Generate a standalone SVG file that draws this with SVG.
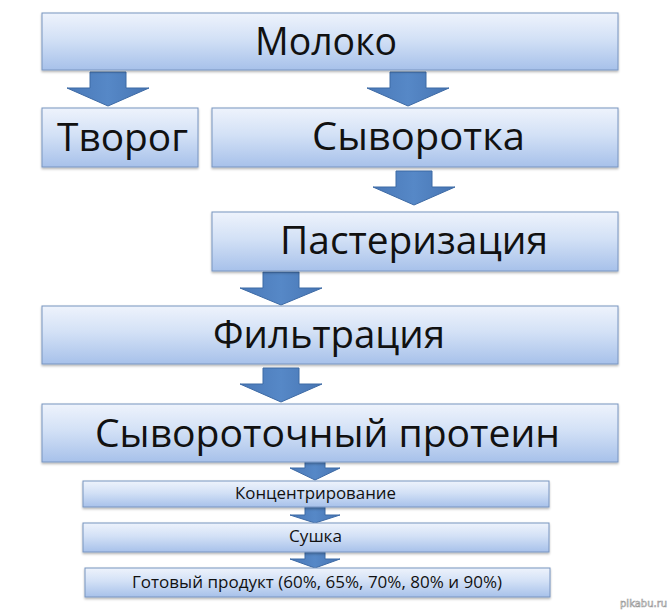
<svg xmlns="http://www.w3.org/2000/svg" width="670" height="614" viewBox="0 0 670 614">
<defs>
<linearGradient id="boxg" x1="0" y1="0" x2="0" y2="1">
<stop offset="0" stop-color="#eef3fc"/>
<stop offset="0.45" stop-color="#d3e1f6"/>
<stop offset="1" stop-color="#a7c1ea"/>
</linearGradient>
<linearGradient id="arrg" x1="0" y1="0" x2="1" y2="0">
<stop offset="0" stop-color="#4a79b8"/>
<stop offset="0.5" stop-color="#5688c7"/>
<stop offset="1" stop-color="#4775b3"/>
</linearGradient>
<filter id="sh" x="-5%" y="-10%" width="110%" height="130%">
<feDropShadow dx="0" dy="1.5" stdDeviation="1" flood-color="#000" flood-opacity="0.3"/>
</filter>
</defs>
<style>
.box{fill:url(#boxg);stroke:#7895c0;stroke-width:1;filter:url(#sh)}
.big{font-family:"Open Sans","Noto Sans",sans-serif;font-size:38px;fill:#111}
.sm{font-family:"Open Sans","Noto Sans",sans-serif;font-size:16.5px;fill:#111}
.arr{fill:url(#arrg);stroke:#3d6aa5;stroke-width:1}
.wm{font-family:"DejaVu Sans",sans-serif;font-size:10px;fill:#fff;stroke:#999;stroke-width:0.6}
</style>
<rect width="670" height="614" fill="#fff"/>
<g id="connectors">
<polygon class="arr" points="90,72 126,72 126,88 149,88 108,106 67,88 90,88"/>
<polygon class="arr" points="390,72 426,72 426,88 449,88 408,106 367,88 390,88"/>
<polygon class="arr" points="396,171 432,171 432,187 455,187 414,205 373,187 396,187"/>
<polygon class="arr" points="263,272 299,272 299,288 322,288 281,305 240,288 263,288"/>
<polygon class="arr" points="263,368 299,368 299,384 322,384 281,402 240,384 263,384"/>
<polygon class="arr" points="305,460 325,460 325,468 340,468 315,480 290,468 305,468"/>
<polygon class="arr" points="305,507 325,507 325,515 340,515 315,523 290,515 305,515"/>
<polygon class="arr" points="305,552 325,552 325,559 340,559 315,568 290,559 305,559"/>
</g>
<g id="moloko"><rect class="box" x="42" y="13" width="576" height="57"/><text class="big" x="255" y="55" textLength="142" lengthAdjust="spacingAndGlyphs">Молоко</text></g>
<g id="tvorog"><rect class="box" x="42" y="108" width="156" height="59"/><text class="big" x="57" y="151" textLength="131" lengthAdjust="spacingAndGlyphs">Творог</text></g>
<g id="syvorotka"><rect class="box" x="212" y="108" width="406" height="59"/><text class="big" x="312" y="150" textLength="213" lengthAdjust="spacingAndGlyphs">Сыворотка</text></g>
<g id="pasteurization"><rect class="box" x="212" y="212" width="406" height="59"/><text class="big" x="280" y="254" textLength="268" lengthAdjust="spacingAndGlyphs">Пастеризация</text></g>
<g id="filtration"><rect class="box" x="42" y="306" width="576" height="58"/><text class="big" x="213" y="348" textLength="232" lengthAdjust="spacingAndGlyphs">Фильтрация</text></g>
<g id="protein"><rect class="box" x="42" y="404" width="576" height="58"/><text class="big" x="95" y="447" textLength="465" lengthAdjust="spacingAndGlyphs">Сывороточный протеин</text></g>
<g id="concentration"><rect class="box" x="83" y="481" width="466" height="26"/><text class="sm" x="235" y="499" textLength="161" lengthAdjust="spacingAndGlyphs">Концентрирование</text></g>
<g id="drying"><rect class="box" x="83" y="523" width="466" height="29"/><text class="sm" x="289" y="542" textLength="53" lengthAdjust="spacingAndGlyphs">Сушка</text></g>
<g id="product"><rect class="box" x="85" y="568" width="465" height="29"/><text class="sm" x="132" y="588" textLength="370" lengthAdjust="spacingAndGlyphs">Готовый продукт (60%, 65%, 70%, 80% и 90%)</text></g>
<text class="wm" x="620" y="607">pikabu.ru</text>
</svg>
